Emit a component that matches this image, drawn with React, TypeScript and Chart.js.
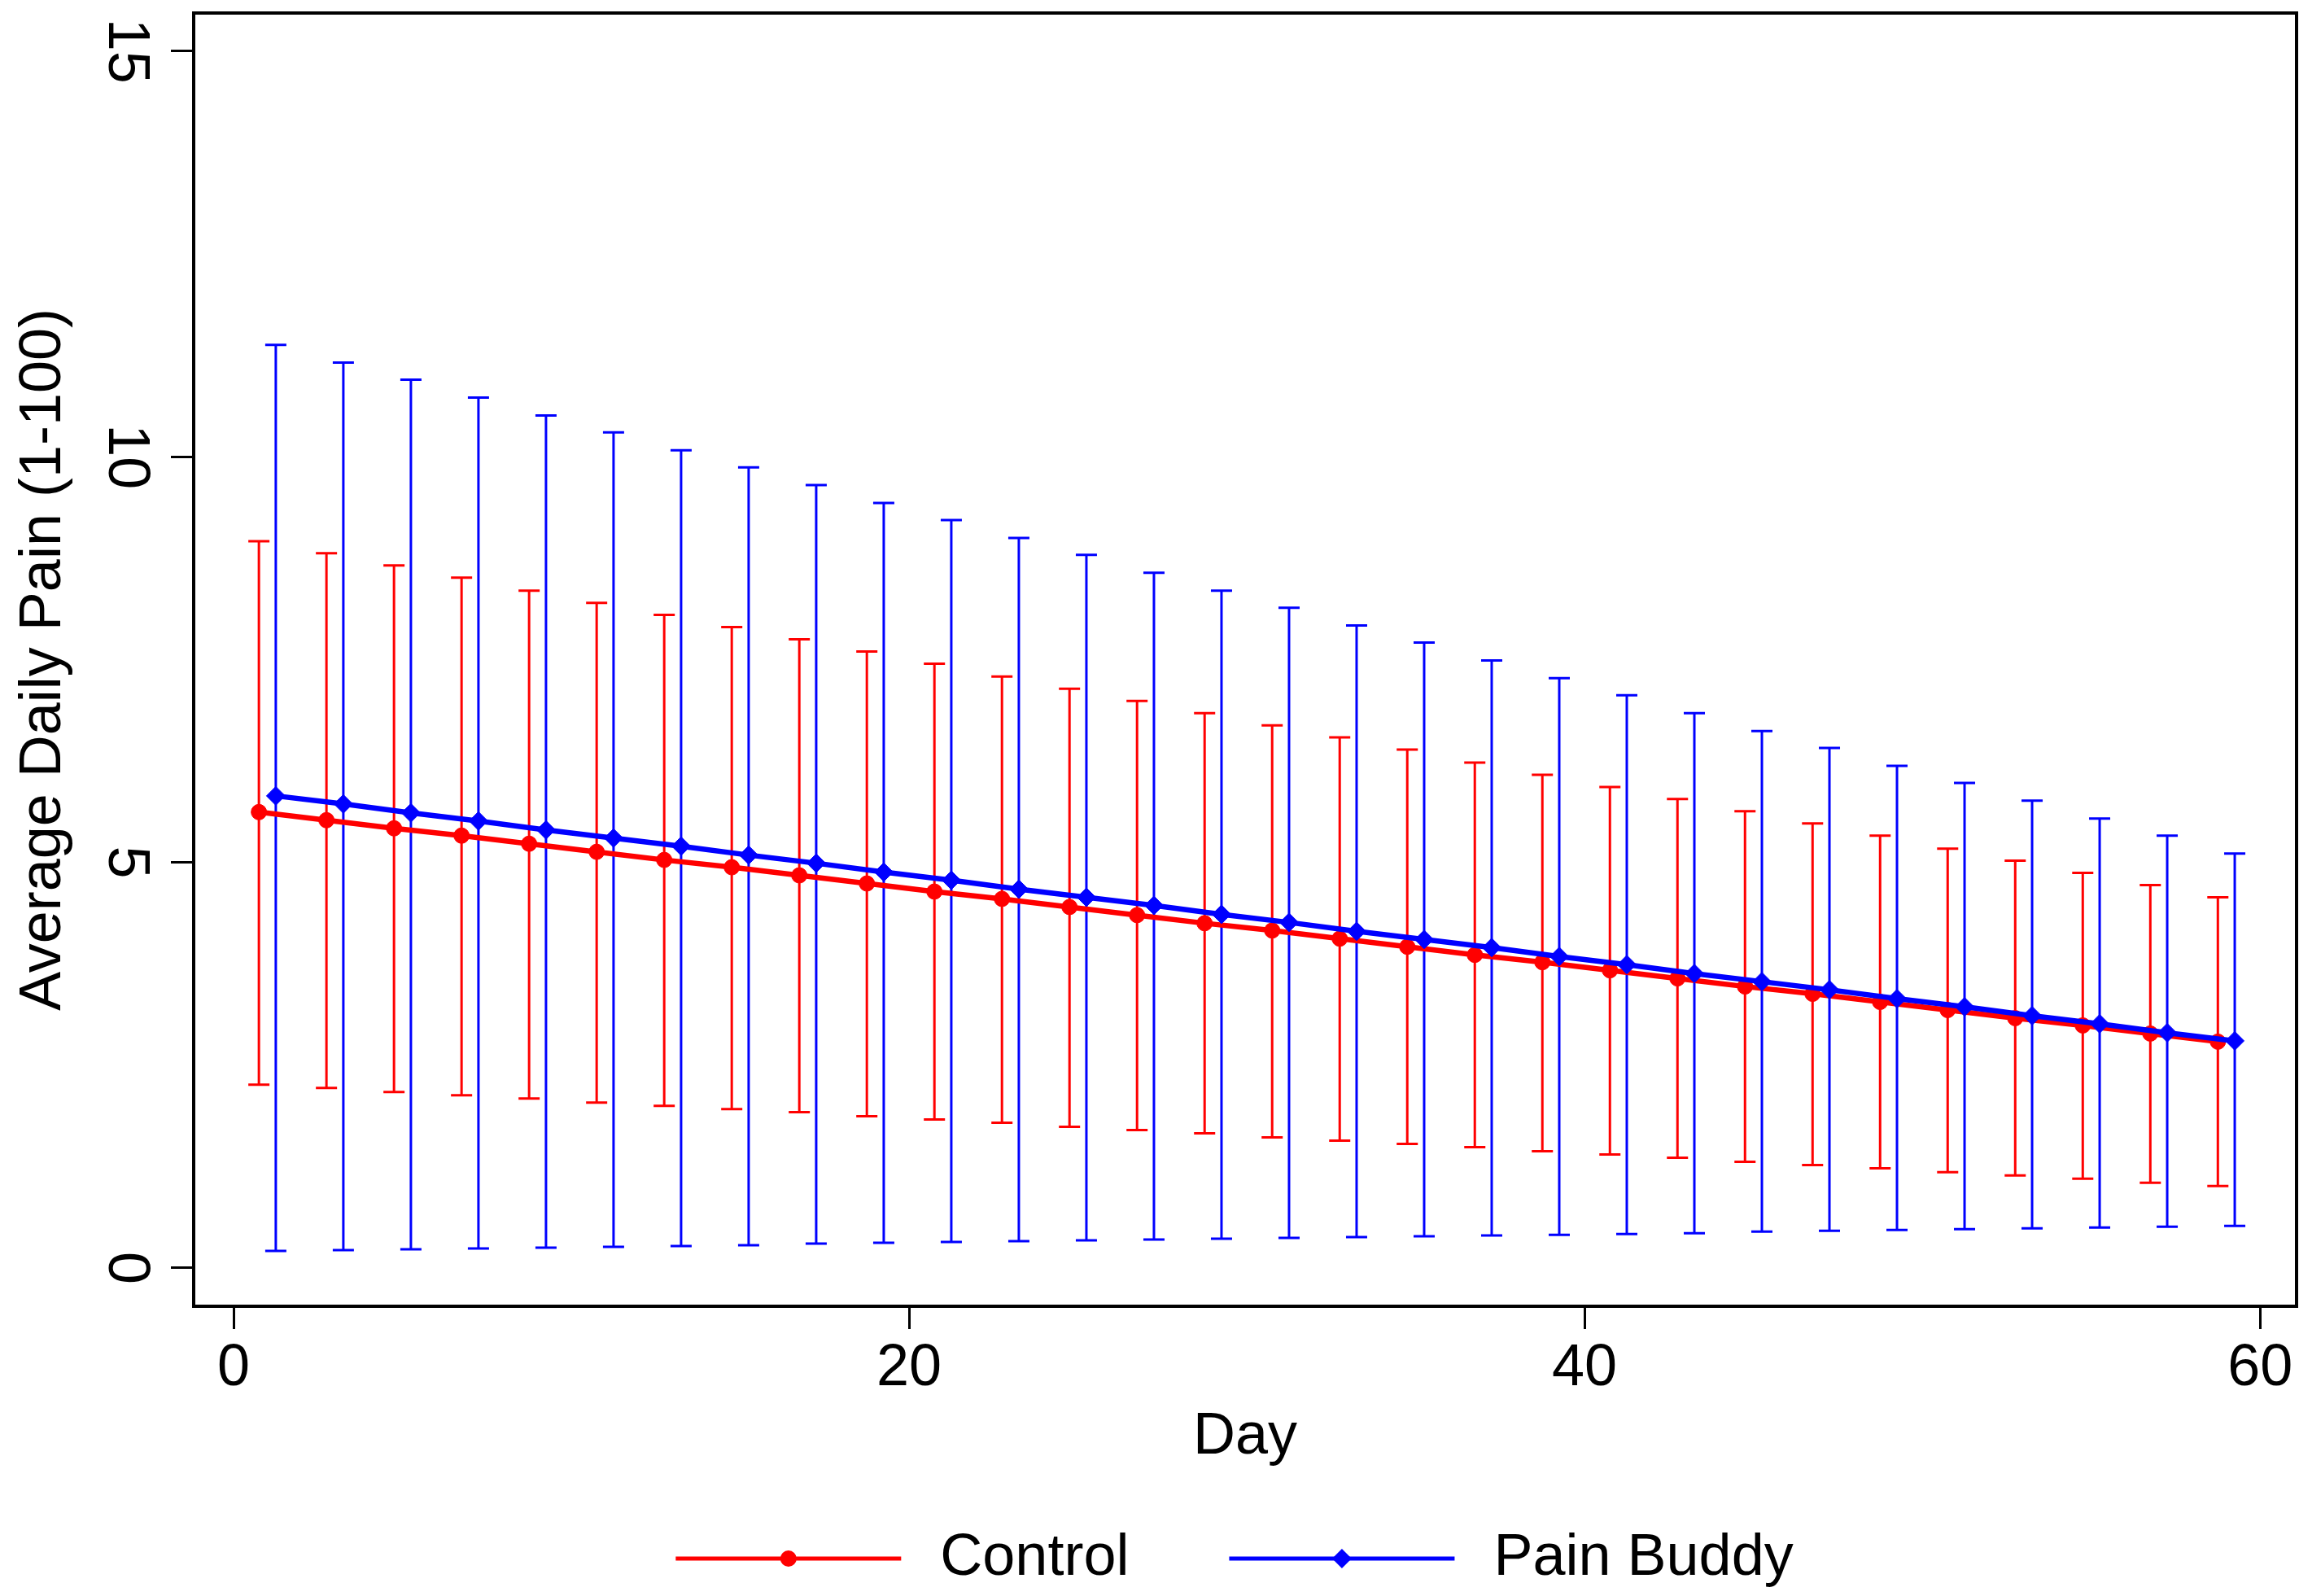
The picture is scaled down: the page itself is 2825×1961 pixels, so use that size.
import React, { useEffect, useRef } from 'react';
import { Chart, registerables } from 'chart.js';

Chart.register(...registerables);

// ---------------- data ----------------
const days = [1, 3, 5, 7, 9, 11, 13, 15, 17, 19, 21, 23, 25, 27, 29, 31, 33, 35, 37, 39, 41, 43, 45, 47, 49, 51, 53, 55, 57, 59];

const controlMean = [5.62, 5.52, 5.42, 5.33, 5.23, 5.13, 5.03, 4.94, 4.84, 4.74, 4.64, 4.55, 4.45, 4.35, 4.25, 4.16, 4.06, 3.96, 3.86, 3.77, 3.67, 3.57, 3.47, 3.38, 3.28, 3.18, 3.08, 2.99, 2.89, 2.79];
const controlUpper = [8.96, 8.81, 8.66, 8.51, 8.35, 8.2, 8.05, 7.9, 7.75, 7.6, 7.45, 7.29, 7.14, 6.99, 6.84, 6.69, 6.54, 6.39, 6.23, 6.08, 5.93, 5.78, 5.63, 5.48, 5.33, 5.17, 5.02, 4.87, 4.72, 4.57];
const controlLower = [2.26, 2.22, 2.17, 2.13, 2.09, 2.04, 2.0, 1.96, 1.92, 1.87, 1.83, 1.79, 1.74, 1.7, 1.66, 1.61, 1.57, 1.53, 1.49, 1.44, 1.4, 1.36, 1.31, 1.27, 1.23, 1.18, 1.14, 1.1, 1.05, 1.01];

const buddyMean = [5.82, 5.72, 5.61, 5.51, 5.4, 5.3, 5.2, 5.09, 4.99, 4.88, 4.78, 4.67, 4.57, 4.47, 4.36, 4.26, 4.15, 4.05, 3.95, 3.84, 3.74, 3.63, 3.53, 3.43, 3.32, 3.22, 3.11, 3.01, 2.9, 2.8];
const buddyUpper = [11.38, 11.16, 10.95, 10.73, 10.51, 10.3, 10.08, 9.87, 9.65, 9.43, 9.22, 9.0, 8.79, 8.57, 8.35, 8.14, 7.92, 7.71, 7.49, 7.27, 7.06, 6.84, 6.62, 6.41, 6.19, 5.98, 5.76, 5.54, 5.33, 5.11];
const buddyLower = [0.21, 0.22, 0.23, 0.24, 0.25, 0.26, 0.27, 0.28, 0.3, 0.31, 0.32, 0.33, 0.34, 0.35, 0.36, 0.37, 0.38, 0.39, 0.4, 0.41, 0.42, 0.43, 0.45, 0.46, 0.47, 0.48, 0.49, 0.5, 0.51, 0.52];

const seriesNames = ['Control', 'Pain Buddy'];
const xTickValues = [0, 20, 40, 60];
const yTickValues = [0, 5, 10, 15];
const xTitle = 'Day';
const yTitle = 'Average Daily Pain (1-100)';

// ---------------- style ----------------
const RED = '#ff0000';
const BLUE = '#0000ff';
const CONTROL_DODGE = -0.25;
const BUDDY_DODGE = 0.25;
const FONT = "'Liberation Sans', Arial, Helvetica, sans-serif";
const FS = 72;
const CAP_HALF = 13;
const LEGEND_LINE_W = 277;
const LEGEND_BOX_W = 289;
const LEGEND_SHIFT = -13;
const LINE_W = 6.5;

const series = [
  { color: RED, dodge: CONTROL_DODGE, mean: controlMean, lower: controlLower, upper: controlUpper, style: 'circle', radius: 9.5, legendRadius: 10 },
  { color: BLUE, dodge: BUDDY_DODGE, mean: buddyMean, lower: buddyLower, upper: buddyUpper, style: 'rectRot', radius: 11.5, legendRadius: 12 },
];

function drawMarker(ctx: CanvasRenderingContext2D, style: string, cx: number, cy: number, r: number, color: string) {
  ctx.save();
  ctx.fillStyle = color;
  ctx.beginPath();
  if (style === 'circle') {
    ctx.arc(cx, cy, r, 0, Math.PI * 2);
  } else {
    ctx.moveTo(cx - r, cy);
    ctx.lineTo(cx, cy - r);
    ctx.lineTo(cx + r, cy);
    ctx.lineTo(cx, cy + r);
    ctx.closePath();
  }
  ctx.fill();
  ctx.restore();
}

const errorBarPlugin = {
  id: 'errorBars',
  beforeDatasetsDraw(chart: any) {
    const { ctx, scales } = chart;
    const xs = scales.x;
    const ys = scales.y;
    ctx.save();
    series.forEach((s) => {
      ctx.strokeStyle = s.color;
      ctx.lineWidth = 3;
      days.forEach((d, i) => {
        const px = xs.getPixelForValue(d + s.dodge);
        const pl = ys.getPixelForValue(s.lower[i]);
        const pu = ys.getPixelForValue(s.upper[i]);
        ctx.beginPath();
        ctx.moveTo(px, pl);
        ctx.lineTo(px, pu);
        ctx.moveTo(px - CAP_HALF, pl);
        ctx.lineTo(px + CAP_HALF, pl);
        ctx.moveTo(px - CAP_HALF, pu);
        ctx.lineTo(px + CAP_HALF, pu);
        ctx.stroke();
      });
    });
    ctx.restore();
  },
};

const framePlugin = {
  id: 'frame',
  afterDraw(chart: any) {
    const { ctx, chartArea } = chart;
    ctx.save();
    ctx.strokeStyle = '#000';
    ctx.lineWidth = 4;
    ctx.strokeRect(chartArea.left, chartArea.top, chartArea.right - chartArea.left, chartArea.bottom - chartArea.top);
    ctx.restore();
  },
};

const legendShiftPlugin = {
  id: 'legendShift',
  afterLayout(chart: any) {
    const legend = chart.legend;
    if (!legend) return;
    legend.left += LEGEND_SHIFT;
    legend.right += LEGEND_SHIFT;
  },
};

const legendMarkerPlugin = {
  id: 'legendMarkers',
  afterDraw(chart: any) {
    const legend = chart.legend;
    if (!legend || !legend.legendHitBoxes) return;
    const ctx = chart.ctx;
    legend.legendHitBoxes.forEach((hb: any, i: number) => {
      const s = series[i];
      if (!s) return;
      const cy = hb.top + hb.height / 2;
      ctx.save();
      ctx.strokeStyle = s.color;
      ctx.lineWidth = 5;
      ctx.beginPath();
      ctx.moveTo(hb.left, cy);
      ctx.lineTo(hb.left + LEGEND_LINE_W, cy);
      ctx.stroke();
      ctx.restore();
      drawMarker(ctx, s.style, hb.left + LEGEND_LINE_W / 2, cy, s.legendRadius, s.color);
    });
  },
};

export default function App() {
  const canvasRef = useRef<HTMLCanvasElement | null>(null);

  useEffect(() => {
    document.body.style.margin = '0';
    const canvas = canvasRef.current;
    if (!canvas) return;
    Chart.defaults.font.family = FONT;
    Chart.defaults.color = '#000';

    const chart = new Chart(canvas, {
      type: 'line',
      data: {
        datasets: series.map((s, si) => ({
          label: seriesNames[si],
          data: days.map((d, i) => ({ x: d + s.dodge, y: s.mean[i] })),
          borderColor: s.color,
          backgroundColor: s.color,
          borderWidth: LINE_W,
          pointStyle: s.style as any,
          pointRadius: s.radius,
          pointHoverRadius: s.radius,
          pointBorderWidth: 1,
          pointBackgroundColor: s.color,
          pointBorderColor: s.color,
          tension: 0,
          fill: false,
          order: si === 0 ? 1 : 0,
        })),
      },
      options: {
        animation: false,
        responsive: false,
        devicePixelRatio: 1,
        events: [],
        layout: { autoPadding: false, padding: { top: 16, right: 3, left: 0, bottom: 0 } },
        scales: {
          x: {
            type: 'linear',
            min: -1.181,
            max: 61.08,
            afterBuildTicks: (s: any) => {
              s.ticks = xTickValues.map((v) => ({ value: v }));
            },
            afterFit: (s: any) => {
              s.height = 151;
              s.paddingLeft = 0;
              s.paddingRight = 0;
            },
            grid: { drawOnChartArea: false, drawTicks: true, tickLength: 28, tickWidth: 3, tickColor: '#000' },
            border: { display: false },
            ticks: { font: { size: FS, family: FONT }, color: '#000', padding: 6, minRotation: 0, maxRotation: 0, autoSkip: false },
            title: { display: true, text: xTitle, font: { size: FS, family: FONT }, color: '#000', padding: { top: 0, bottom: -53 } },
          },
          y: {
            type: 'linear',
            min: -0.4716,
            max: 15.47,
            afterBuildTicks: (s: any) => {
              s.ticks = yTickValues.map((v) => ({ value: v }));
            },
            afterFit: (s: any) => {
              s.width = 238;
              s.paddingTop = 0;
              s.paddingBottom = 0;
            },
            grid: { drawOnChartArea: false, drawTicks: true, tickLength: 28, tickWidth: 3, tickColor: '#000' },
            border: { display: false },
            ticks: { font: { size: FS, family: FONT }, color: '#000', padding: 16, minRotation: -90, maxRotation: 0, crossAlign: 'center', autoSkip: false },
            title: { display: true, text: yTitle, font: { size: FS, family: FONT }, color: '#000', padding: { top: 11, bottom: 0 } },
          },
        },
        plugins: {
          tooltip: { enabled: false },
          legend: {
            display: true,
            position: 'bottom',
            fullSize: false,
            labels: {
              boxWidth: LEGEND_BOX_W,
              boxHeight: 5,
              padding: 123,
              color: '#000',
              font: { size: FS, family: FONT },
              generateLabels: (c: any) =>
                c.data.datasets.map((ds: any, i: number) => ({
                  text: ds.label,
                  fillStyle: 'rgba(0,0,0,0)',
                  strokeStyle: 'rgba(0,0,0,0)',
                  lineWidth: 0,
                  hidden: false,
                  datasetIndex: i,
                  fontColor: '#000',
                })),
            },
          },
        },
      } as any,
      plugins: [errorBarPlugin, framePlugin, legendShiftPlugin, legendMarkerPlugin],
    });
    return () => chart.destroy();
  }, []);

  return (
    <div style={{ position: 'absolute', left: 0, top: 0, width: 2825, height: 1961, background: '#fff' }}>
      <canvas ref={canvasRef} width={2825} height={1961} style={{ display: 'block', width: 2825, height: 1961 }} />
    </div>
  );
}
